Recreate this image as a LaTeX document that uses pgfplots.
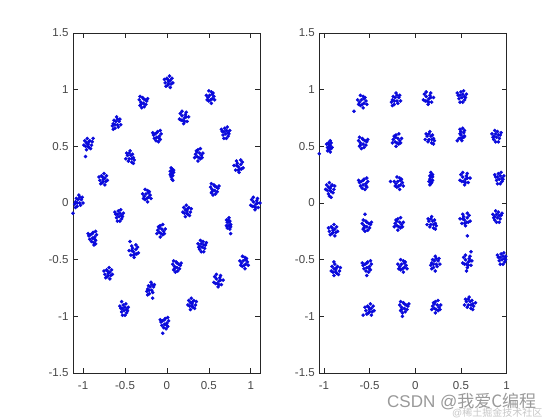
\documentclass[border=0pt]{standalone}
\usepackage{pgfplots}
\pgfplotsset{compat=1.18}
\usepackage{fontspec}
\setmainfont{Liberation Sans}
\newfontfamily\cjk{Noto Sans CJK SC}
\definecolor{axgray}{RGB}{38,38,38}
\definecolor{dotblue}{RGB}{10,10,220}
\pgfplotsset{myax/.style={
  scale only axis, height=340pt, anchor=south west,
  ymin=-1.5, ymax=1.5,
  ytick={-1.5,-1,-0.5,0,0.5,1,1.5},
  xtick={-1,-0.5,0,0.5,1},
  tick align=inside, major tick length=5pt,
  axis line style={axgray, line width=0.6pt},
  tick style={axgray, line width=0.6pt},
  ticklabel style={font=\fontsize{11.5}{13}\selectfont, text=axgray!85},
  xticklabel style={yshift=-5pt},
  yticklabel style={xshift=-1pt},
  /pgf/number format/assume math mode=true,
  clip=true,
}}
\begin{document}
\begin{tikzpicture}
\path[use as bounding box, fill=white] (0,0) rectangle (560pt,420pt);
\begin{axis}[myax, at={(73pt,47pt)}, width=187pt, xmin=-1.12, xmax=1.11]
\addplot[only marks, mark=*, mark size=1.6pt, color=dotblue] coordinates {
(0.02,1.07) (0.04,1.08) (0.00,1.10) (0.05,1.05) (0.01,1.04) (0.06,1.10) (-0.02,1.06) (0.03,1.12) (-0.01,1.03) (0.07,1.06) (0.01,1.09) (0.04,1.02) (-0.03,1.09) (0.02,1.05)
(-0.28,0.88) (-0.31,0.89) (-0.26,0.91) (-0.32,0.86) (-0.29,0.93) (-0.27,0.85) (-0.33,0.91) (-0.24,0.90) (-0.30,0.84) (-0.28,0.92) (-0.31,0.87) (-0.25,0.87) (-0.32,0.94) (-0.23,0.92)
(0.51,0.95) (0.54,0.92) (0.49,0.93) (0.53,0.98) (0.56,0.94) (0.50,0.90) (0.55,0.97) (0.47,0.95) (0.52,0.91) (0.50,0.99) (0.57,0.91) (0.54,0.96) (0.48,0.91) (0.53,0.88)
(-0.61,0.72) (-0.64,0.70) (-0.59,0.69) (-0.62,0.66) (-0.57,0.72) (-0.63,0.73) (-0.58,0.67) (-0.60,0.76) (-0.65,0.68) (-0.56,0.74) (-0.62,0.69) (-0.59,0.74) (-0.64,0.65) (-0.55,0.69)
(0.21,0.75) (0.19,0.73) (0.23,0.76) (0.18,0.77) (0.20,0.70) (0.24,0.72) (0.16,0.79) (0.22,0.78) (0.17,0.73) (0.26,0.76) (0.21,0.72) (0.15,0.74) (0.23,0.80) (0.18,0.81)
(0.68,0.63) (0.71,0.64) (0.70,0.61) (0.73,0.59) (0.67,0.60) (0.72,0.67) (0.69,0.66) (0.75,0.64) (0.66,0.63) (0.71,0.57) (0.74,0.61) (0.68,0.57) (0.65,0.65) (0.73,0.62)
(-0.94,0.52) (-0.96,0.53) (-0.92,0.55) (-0.97,0.50) (-0.93,0.49) (-0.98,0.55) (-0.90,0.51) (-0.95,0.57) (-0.91,0.48) (-0.99,0.51) (-0.93,0.54) (-0.96,0.47) (-0.89,0.54) (-0.94,0.50) (-0.97,0.41) (-0.88,0.57)
(-0.12,0.58) (-0.09,0.59) (-0.14,0.61) (-0.08,0.56) (-0.11,0.63) (-0.13,0.55) (-0.07,0.61) (-0.16,0.60) (-0.10,0.54) (-0.12,0.62) (-0.09,0.57) (-0.15,0.57) (-0.08,0.64) (-0.17,0.62)
(0.39,0.44) (0.36,0.41) (0.41,0.42) (0.37,0.47) (0.34,0.43) (0.40,0.39) (0.35,0.46) (0.43,0.44) (0.38,0.40) (0.40,0.48) (0.33,0.40) (0.36,0.45) (0.42,0.40) (0.37,0.37)
(-0.43,0.42) (-0.40,0.40) (-0.45,0.39) (-0.42,0.36) (-0.47,0.42) (-0.41,0.43) (-0.46,0.37) (-0.44,0.46) (-0.39,0.38) (-0.48,0.44) (-0.42,0.39) (-0.45,0.44) (-0.40,0.35) (-0.49,0.39)
(0.85,0.32) (0.87,0.30) (0.83,0.33) (0.88,0.34) (0.86,0.27) (0.82,0.29) (0.90,0.36) (0.84,0.35) (0.89,0.30) (0.80,0.33) (0.85,0.29) (0.91,0.31) (0.83,0.37) (0.88,0.38)
(0.07,0.27) (0.06,0.28) (0.06,0.25) (0.05,0.23) (0.07,0.24) (0.05,0.31) (0.06,0.30) (0.04,0.28) (0.08,0.27) (0.06,0.21) (0.04,0.25) (0.07,0.20) (0.08,0.29) (0.05,0.26)
(-0.76,0.21) (-0.74,0.22) (-0.78,0.24) (-0.73,0.19) (-0.77,0.18) (-0.72,0.24) (-0.80,0.20) (-0.75,0.26) (-0.79,0.17) (-0.71,0.20) (-0.77,0.23) (-0.74,0.16) (-0.81,0.23) (-0.76,0.19)
(0.57,0.11) (0.54,0.12) (0.59,0.14) (0.53,0.09) (0.56,0.16) (0.58,0.08) (0.52,0.14) (0.61,0.13) (0.55,0.07) (0.57,0.15) (0.54,0.10) (0.60,0.10) (0.53,0.17) (0.62,0.15)
(-0.25,0.08) (-0.22,0.05) (-0.27,0.06) (-0.23,0.11) (-0.20,0.07) (-0.26,0.03) (-0.21,0.10) (-0.29,0.08) (-0.24,0.04) (-0.26,0.12) (-0.19,0.04) (-0.22,0.09) (-0.28,0.04) (-0.23,0.01)
(-1.06,0.03) (-1.09,0.01) (-1.04,0.00) (-1.07,-0.03) (-1.02,0.03) (-1.08,0.04) (-1.03,-0.02) (-1.05,0.07) (-1.10,-0.01) (-1.01,0.05) (-1.07,0.00) (-1.04,0.05) (-1.09,-0.04) (-1.00,0.00) (-1.12,-0.09)
(1.06,-0.01) (1.04,-0.03) (1.08,0.00) (1.03,0.01) (1.05,-0.06) (1.09,-0.04) (1.01,0.03) (1.07,0.02) (1.02,-0.03) (1.11,0.00) (1.06,-0.04) (1.00,-0.02) (1.08,0.04) (1.03,0.05)
(-0.59,-0.10) (-0.56,-0.09) (-0.57,-0.12) (-0.54,-0.14) (-0.60,-0.13) (-0.55,-0.06) (-0.58,-0.07) (-0.52,-0.09) (-0.61,-0.10) (-0.56,-0.16) (-0.53,-0.12) (-0.59,-0.16) (-0.62,-0.08) (-0.54,-0.11)
(0.24,-0.07) (0.22,-0.06) (0.26,-0.04) (0.21,-0.09) (0.25,-0.10) (0.20,-0.04) (0.28,-0.08) (0.23,-0.02) (0.27,-0.11) (0.19,-0.08) (0.25,-0.05) (0.22,-0.12) (0.29,-0.05) (0.24,-0.09)
(-0.89,-0.31) (-0.86,-0.30) (-0.91,-0.28) (-0.85,-0.33) (-0.88,-0.26) (-0.90,-0.34) (-0.84,-0.28) (-0.93,-0.29) (-0.87,-0.35) (-0.89,-0.27) (-0.86,-0.32) (-0.92,-0.32) (-0.85,-0.25) (-0.94,-0.27) (-0.87,-0.37) (-0.85,-0.36)
(-0.06,-0.23) (-0.09,-0.26) (-0.04,-0.25) (-0.08,-0.20) (-0.11,-0.24) (-0.05,-0.28) (-0.10,-0.21) (-0.02,-0.23) (-0.07,-0.27) (-0.05,-0.19) (-0.12,-0.27) (-0.09,-0.22) (-0.03,-0.27) (-0.08,-0.30)
(0.74,-0.17) (0.76,-0.19) (0.73,-0.20) (0.75,-0.23) (0.72,-0.17) (0.75,-0.16) (0.72,-0.22) (0.74,-0.13) (0.76,-0.21) (0.71,-0.15) (0.75,-0.20) (0.73,-0.15) (0.76,-0.27) (0.71,-0.20)
(-0.40,-0.43) (-0.38,-0.45) (-0.42,-0.42) (-0.37,-0.41) (-0.39,-0.48) (-0.43,-0.46) (-0.35,-0.39) (-0.41,-0.40) (-0.36,-0.45) (-0.45,-0.42) (-0.40,-0.46) (-0.34,-0.44) (-0.42,-0.38) (-0.37,-0.37) (-0.44,-0.34)
(0.44,-0.37) (0.41,-0.36) (0.42,-0.39) (0.39,-0.41) (0.45,-0.40) (0.40,-0.33) (0.43,-0.34) (0.37,-0.36) (0.46,-0.37) (0.41,-0.43) (0.38,-0.39) (0.44,-0.43) (0.47,-0.35) (0.39,-0.38)
(-0.70,-0.62) (-0.68,-0.61) (-0.72,-0.59) (-0.67,-0.64) (-0.71,-0.65) (-0.66,-0.59) (-0.74,-0.63) (-0.69,-0.57) (-0.73,-0.66) (-0.65,-0.63) (-0.71,-0.60) (-0.68,-0.67) (-0.75,-0.60) (-0.70,-0.64)
(0.12,-0.57) (0.09,-0.56) (0.14,-0.54) (0.08,-0.59) (0.11,-0.52) (0.13,-0.60) (0.07,-0.54) (0.16,-0.55) (0.10,-0.61) (0.12,-0.53) (0.09,-0.58) (0.15,-0.58) (0.08,-0.51) (0.17,-0.53)
(0.91,-0.51) (0.94,-0.54) (0.89,-0.53) (0.93,-0.48) (0.96,-0.52) (0.90,-0.56) (0.95,-0.49) (0.87,-0.51) (0.92,-0.55) (0.90,-0.47) (0.97,-0.55) (0.94,-0.50) (0.88,-0.55) (0.93,-0.58)
(-0.20,-0.74) (-0.23,-0.76) (-0.18,-0.77) (-0.21,-0.80) (-0.16,-0.74) (-0.22,-0.73) (-0.17,-0.79) (-0.19,-0.70) (-0.24,-0.78) (-0.15,-0.72) (-0.21,-0.77) (-0.18,-0.72) (-0.23,-0.81) (-0.17,-0.84)
(0.62,-0.69) (0.60,-0.71) (0.64,-0.68) (0.59,-0.67) (0.61,-0.74) (0.65,-0.72) (0.57,-0.65) (0.63,-0.66) (0.58,-0.71) (0.67,-0.68) (0.62,-0.72) (0.56,-0.70) (0.64,-0.64) (0.59,-0.63)
(-0.53,-0.93) (-0.50,-0.92) (-0.51,-0.95) (-0.48,-0.97) (-0.54,-0.96) (-0.49,-0.89) (-0.52,-0.90) (-0.46,-0.92) (-0.55,-0.93) (-0.50,-0.99) (-0.47,-0.95) (-0.53,-0.99) (-0.56,-0.91) (-0.48,-0.94) (-0.54,-0.87)
(0.30,-0.89) (0.28,-0.88) (0.32,-0.86) (0.27,-0.91) (0.31,-0.92) (0.26,-0.86) (0.34,-0.90) (0.29,-0.84) (0.33,-0.93) (0.25,-0.90) (0.31,-0.87) (0.28,-0.94) (0.35,-0.87) (0.30,-0.91)
(-0.03,-1.07) (0.00,-1.06) (-0.05,-1.04) (0.01,-1.09) (-0.02,-1.02) (-0.04,-1.10) (0.02,-1.04) (-0.07,-1.05) (-0.01,-1.11) (-0.03,-1.03) (0.00,-1.08) (-0.06,-1.08) (0.01,-1.01) (-0.08,-1.03) (-0.05,-1.15)
};
\end{axis}
\begin{axis}[myax, at={(319.3pt,47pt)}, width=187.3pt, xmin=-1.05, xmax=1.0]
\addplot[only marks, mark=*, mark size=1.6pt, color=dotblue] coordinates {
(-0.59,0.91) (-0.56,0.88) (-0.61,0.89) (-0.57,0.94) (-0.54,0.90) (-0.60,0.86) (-0.55,0.93) (-0.63,0.91) (-0.58,0.87) (-0.60,0.95) (-0.53,0.87) (-0.56,0.92) (-0.62,0.87) (-0.57,0.84) (-0.67,0.81)
(-0.22,0.93) (-0.25,0.91) (-0.20,0.90) (-0.23,0.87) (-0.18,0.93) (-0.24,0.94) (-0.19,0.88) (-0.21,0.97) (-0.26,0.89) (-0.17,0.95) (-0.23,0.90) (-0.20,0.95) (-0.25,0.86) (-0.16,0.90)
(0.15,0.92) (0.13,0.90) (0.17,0.93) (0.12,0.94) (0.14,0.87) (0.18,0.89) (0.10,0.96) (0.16,0.95) (0.11,0.90) (0.20,0.93) (0.15,0.89) (0.09,0.91) (0.17,0.97) (0.12,0.98)
(0.49,0.95) (0.52,0.96) (0.51,0.93) (0.54,0.91) (0.48,0.92) (0.53,0.99) (0.50,0.98) (0.56,0.96) (0.47,0.95) (0.52,0.89) (0.55,0.93) (0.49,0.89) (0.46,0.97) (0.54,0.94)
(-0.94,0.50) (-0.93,0.51) (-0.95,0.53) (-0.92,0.48) (-0.95,0.47) (-0.92,0.53) (-0.96,0.49) (-0.93,0.55) (-0.96,0.46) (-0.91,0.49) (-0.95,0.52) (-0.93,0.45) (-0.97,0.52) (-0.94,0.48) (-1.05,0.435)
(-0.57,0.52) (-0.60,0.53) (-0.55,0.55) (-0.61,0.50) (-0.58,0.57) (-0.56,0.49) (-0.62,0.55) (-0.53,0.54) (-0.59,0.48) (-0.57,0.56) (-0.60,0.51) (-0.54,0.51) (-0.61,0.58) (-0.52,0.56)
(-0.19,0.57) (-0.22,0.54) (-0.17,0.55) (-0.21,0.60) (-0.24,0.56) (-0.18,0.52) (-0.23,0.59) (-0.15,0.57) (-0.20,0.53) (-0.18,0.61) (-0.25,0.53) (-0.22,0.58) (-0.16,0.53) (-0.21,0.50)
(0.17,0.59) (0.20,0.57) (0.15,0.56) (0.18,0.53) (0.13,0.59) (0.19,0.60) (0.14,0.54) (0.16,0.63) (0.21,0.55) (0.12,0.61) (0.18,0.56) (0.15,0.61) (0.20,0.52) (0.11,0.56)
(0.50,0.60) (0.52,0.58) (0.49,0.61) (0.53,0.62) (0.51,0.55) (0.48,0.57) (0.54,0.64) (0.50,0.63) (0.53,0.58) (0.46,0.55) (0.50,0.57) (0.54,0.59) (0.49,0.65) (0.52,0.66)
(0.91,0.60) (0.88,0.61) (0.89,0.58) (0.86,0.56) (0.92,0.57) (0.87,0.64) (0.90,0.63) (0.84,0.61) (0.93,0.60) (0.88,0.54) (0.85,0.58) (0.91,0.54) (0.94,0.62) (0.86,0.59)
(-0.93,0.13) (-0.95,0.14) (-0.91,0.16) (-0.96,0.11) (-0.92,0.10) (-0.97,0.16) (-0.89,0.12) (-0.94,0.18) (-0.90,0.09) (-0.98,0.12) (-0.92,0.15) (-0.95,0.08) (-0.88,0.15) (-0.93,0.11) (-0.94,0.06) (-0.92,0.05)
(-0.57,0.16) (-0.54,0.17) (-0.59,0.19) (-0.53,0.14) (-0.56,0.21) (-0.58,0.13) (-0.52,0.19) (-0.61,0.18) (-0.55,0.12) (-0.57,0.20) (-0.54,0.15) (-0.60,0.15) (-0.53,0.22) (-0.62,0.20)
(-0.19,0.19) (-0.16,0.16) (-0.21,0.17) (-0.17,0.22) (-0.14,0.18) (-0.20,0.14) (-0.15,0.21) (-0.23,0.19) (-0.18,0.15) (-0.20,0.23) (-0.13,0.15) (-0.16,0.20) (-0.22,0.15) (-0.17,0.12) (-0.27,0.19)
(0.17,0.23) (0.16,0.21) (0.18,0.20) (0.17,0.17) (0.19,0.23) (0.16,0.24) (0.18,0.18) (0.17,0.27) (0.15,0.19) (0.19,0.25) (0.17,0.20) (0.18,0.25) (0.16,0.16) (0.19,0.20)
(0.55,0.21) (0.53,0.19) (0.57,0.22) (0.52,0.23) (0.54,0.16) (0.58,0.18) (0.50,0.25) (0.56,0.24) (0.51,0.19) (0.60,0.22) (0.55,0.18) (0.49,0.20) (0.57,0.26) (0.52,0.27)
(0.90,0.23) (0.93,0.24) (0.92,0.21) (0.95,0.19) (0.89,0.20) (0.94,0.27) (0.91,0.26) (0.97,0.24) (0.88,0.23) (0.93,0.17) (0.96,0.21) (0.90,0.17) (0.87,0.25) (0.95,0.22)
(-0.90,-0.24) (-0.88,-0.23) (-0.92,-0.21) (-0.87,-0.26) (-0.91,-0.27) (-0.86,-0.21) (-0.94,-0.25) (-0.89,-0.19) (-0.93,-0.28) (-0.85,-0.25) (-0.91,-0.22) (-0.88,-0.29) (-0.95,-0.22) (-0.90,-0.26)
(-0.53,-0.21) (-0.56,-0.20) (-0.51,-0.18) (-0.57,-0.23) (-0.54,-0.16) (-0.52,-0.24) (-0.58,-0.18) (-0.49,-0.19) (-0.55,-0.25) (-0.53,-0.17) (-0.56,-0.22) (-0.50,-0.22) (-0.57,-0.15) (-0.48,-0.17) (-0.55,-0.10)
(-0.17,-0.17) (-0.20,-0.20) (-0.15,-0.19) (-0.19,-0.14) (-0.22,-0.18) (-0.16,-0.22) (-0.21,-0.15) (-0.13,-0.17) (-0.18,-0.21) (-0.16,-0.13) (-0.23,-0.21) (-0.20,-0.16) (-0.14,-0.21) (-0.19,-0.24)
(0.19,-0.16) (0.22,-0.18) (0.17,-0.19) (0.20,-0.22) (0.15,-0.16) (0.21,-0.15) (0.16,-0.21) (0.18,-0.12) (0.23,-0.20) (0.14,-0.14) (0.20,-0.19) (0.17,-0.14) (0.22,-0.23) (0.13,-0.19)
(0.54,-0.15) (0.56,-0.17) (0.52,-0.14) (0.57,-0.13) (0.55,-0.20) (0.51,-0.18) (0.59,-0.11) (0.53,-0.12) (0.58,-0.17) (0.49,-0.14) (0.54,-0.18) (0.60,-0.16) (0.52,-0.10) (0.57,-0.09) (0.57,-0.29)
(0.92,-0.11) (0.89,-0.10) (0.90,-0.13) (0.87,-0.15) (0.93,-0.14) (0.88,-0.07) (0.91,-0.08) (0.85,-0.10) (0.94,-0.11) (0.89,-0.17) (0.86,-0.13) (0.92,-0.17) (0.95,-0.09) (0.87,-0.12)
(-0.87,-0.59) (-0.89,-0.58) (-0.85,-0.56) (-0.90,-0.61) (-0.86,-0.62) (-0.91,-0.56) (-0.83,-0.60) (-0.88,-0.54) (-0.84,-0.63) (-0.92,-0.60) (-0.86,-0.57) (-0.89,-0.64) (-0.82,-0.57) (-0.87,-0.61) (-0.89,-0.52)
(-0.53,-0.57) (-0.50,-0.56) (-0.55,-0.54) (-0.49,-0.59) (-0.52,-0.52) (-0.54,-0.60) (-0.48,-0.54) (-0.57,-0.55) (-0.51,-0.61) (-0.53,-0.53) (-0.50,-0.58) (-0.56,-0.58) (-0.49,-0.51) (-0.58,-0.53) (-0.53,-0.64)
(-0.15,-0.54) (-0.12,-0.57) (-0.17,-0.56) (-0.13,-0.51) (-0.10,-0.55) (-0.16,-0.59) (-0.11,-0.52) (-0.19,-0.54) (-0.14,-0.58) (-0.16,-0.50) (-0.09,-0.58) (-0.12,-0.53) (-0.18,-0.58) (-0.13,-0.61)
(0.21,-0.51) (0.18,-0.53) (0.23,-0.54) (0.20,-0.57) (0.25,-0.51) (0.19,-0.50) (0.24,-0.56) (0.22,-0.47) (0.17,-0.55) (0.26,-0.49) (0.20,-0.54) (0.23,-0.49) (0.18,-0.58) (0.27,-0.54) (0.22,-0.60)
(0.58,-0.52) (0.56,-0.54) (0.60,-0.51) (0.55,-0.50) (0.57,-0.57) (0.61,-0.55) (0.53,-0.48) (0.59,-0.49) (0.54,-0.54) (0.62,-0.51) (0.58,-0.55) (0.52,-0.53) (0.60,-0.47) (0.55,-0.46) (0.56,-0.60) (0.61,-0.43)
(0.93,-0.48) (0.96,-0.47) (0.95,-0.50) (0.98,-0.52) (0.92,-0.51) (0.97,-0.44) (0.94,-0.45) (0.99,-0.47) (0.91,-0.48) (0.96,-0.54) (0.99,-0.50) (0.93,-0.54) (0.90,-0.46) (0.98,-0.49)
(-0.50,-0.94) (-0.48,-0.93) (-0.52,-0.91) (-0.47,-0.96) (-0.51,-0.97) (-0.46,-0.91) (-0.54,-0.95) (-0.49,-0.89) (-0.53,-0.98) (-0.45,-0.95) (-0.51,-0.92) (-0.48,-0.99) (-0.55,-0.92) (-0.50,-0.96) (-0.57,-0.99)
(-0.12,-0.93) (-0.15,-0.92) (-0.10,-0.90) (-0.16,-0.95) (-0.13,-0.88) (-0.11,-0.96) (-0.17,-0.90) (-0.08,-0.91) (-0.14,-0.97) (-0.12,-0.89) (-0.15,-0.94) (-0.09,-0.94) (-0.16,-0.87) (-0.07,-0.89) (-0.14,-1.00)
(0.24,-0.90) (0.21,-0.93) (0.26,-0.92) (0.22,-0.87) (0.19,-0.91) (0.25,-0.95) (0.20,-0.88) (0.28,-0.90) (0.23,-0.94) (0.25,-0.86) (0.18,-0.94) (0.21,-0.89) (0.27,-0.94) (0.22,-0.97)
(0.60,-0.87) (0.63,-0.89) (0.58,-0.90) (0.61,-0.93) (0.56,-0.87) (0.62,-0.86) (0.57,-0.92) (0.59,-0.83) (0.64,-0.91) (0.55,-0.85) (0.61,-0.90) (0.58,-0.85) (0.63,-0.94) (0.54,-0.90) (0.66,-0.88)
};
\end{axis}
\node[anchor=west, inner sep=0pt, text=black!22, font=\fontsize{10}{11}\selectfont] at (452pt,7pt) {@\cjk 稀土掘金技术社区};
\node[anchor=west, inner sep=0pt, text=black!40, font=\fontsize{17}{19}\selectfont] at (387pt,19pt) {CSDN @\cjk 我爱C编程};
\end{tikzpicture}
\end{document}
